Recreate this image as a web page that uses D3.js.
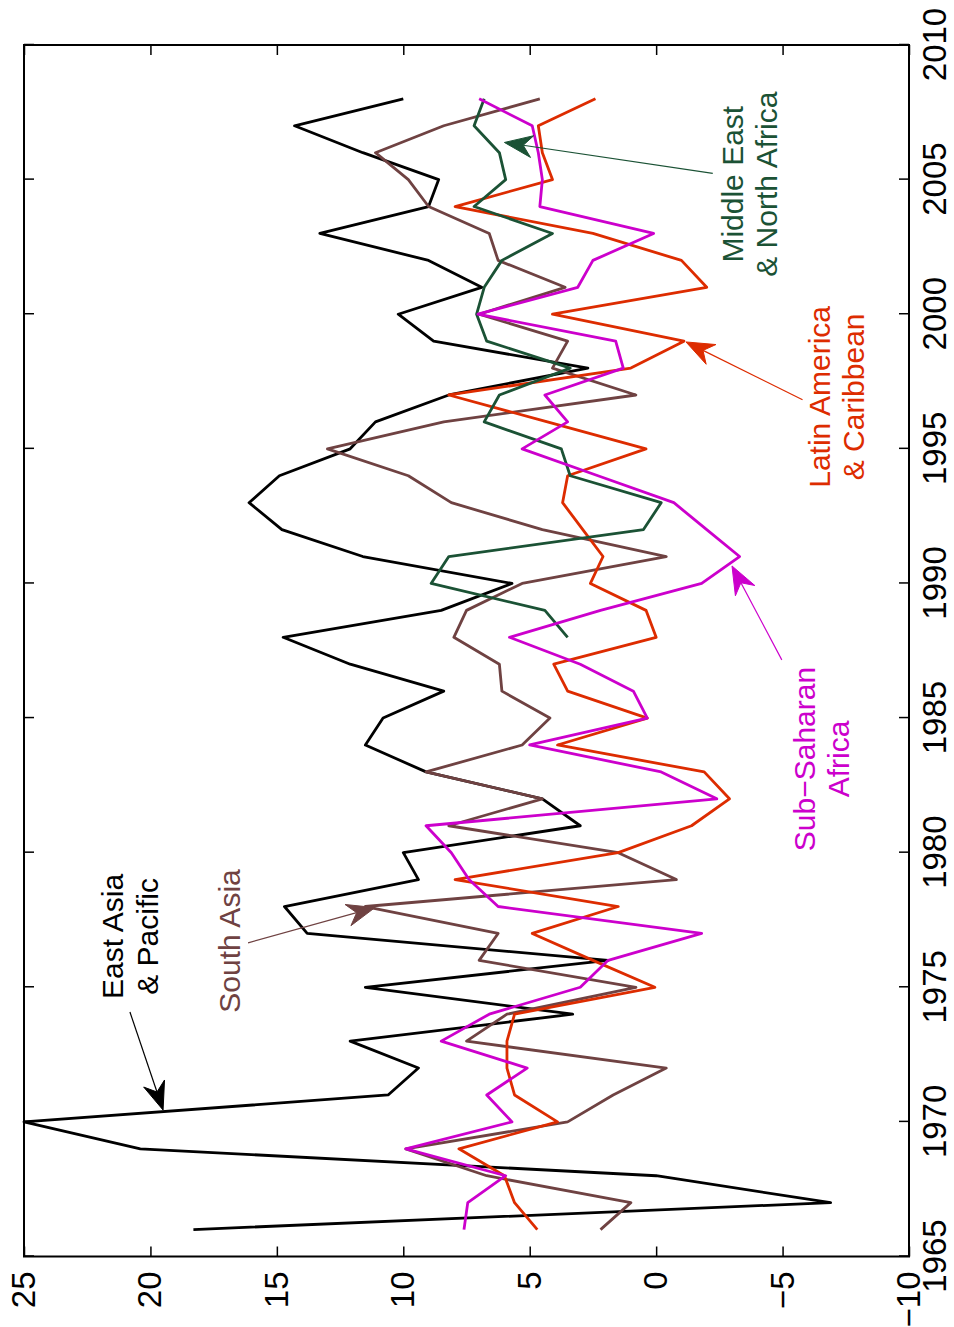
<!DOCTYPE html>
<html>
<head>
    <meta charset="utf-8" />
    <title>Growth by region</title>
    <script src="https://cdn.jsdelivr.net/npm/d3@7"></script>
    <style>
        body { margin: 0; background: #fff; }
        text { font-family: "Liberation Sans", Arial, Helvetica, sans-serif; }
    </style>
</head>
<body>
    <div id="chart"></div>
    <script>
        // values, one per year 1966..2008
        var years = [1966, 1967, 1968, 1969, 1970, 1971, 1972, 1973, 1974, 1975,
                     1976, 1977, 1978, 1979, 1980, 1981, 1982, 1983, 1984, 1985,
                     1986, 1987, 1988, 1989, 1990, 1991, 1992, 1993, 1994, 1995,
                     1996, 1997, 1998, 1999, 2000, 2001, 2002, 2003, 2004, 2005,
                     2006, 2007, 2008];
        var eastAsia = [18.3, -6.9, 0.0, 20.4, 25.0, 10.6, 9.4, 12.1, 3.3, 11.5,
                        1.9, 13.8, 14.7, 9.4, 10.0, 3.0, 4.5, 9.1, 11.5, 10.8,
                        8.4, 12.1, 14.75, 8.5, 5.7, 11.6, 14.8, 16.1, 14.9, 12.1,
                        11.1, 8.2, 2.7, 8.8, 10.2, 6.9, 9.0, 13.3, 9.0, 8.6,
                        11.6, 14.3, 10.0];
        var southAsia = [2.2, 1.0, 6.7, 9.9, 3.5, 1.7, -0.4, 7.5, 5.9, 0.8,
                         7.0, 6.25, 11.5, -0.8, 1.5, 8.2, 4.5, 9.1, 5.3, 4.2,
                         6.1, 6.2, 8.0, 7.5, 5.3, -0.4, 4.5, 8.1, 9.8, 13.0,
                         8.4, 0.8, 4.1, 3.5, 7.0, 3.6, 6.25, 6.6, 9.0, 9.8,
                         11.1, 8.4, 4.6];
        var latinAmerica = [4.7, 5.6, 6.0, 7.8, 3.9, 5.6, 5.9, 5.9, 5.6, 0.05,
                            2.5, 4.9, 1.5, 7.95, 1.5, -1.4, -2.9, -1.9, 3.9, 0.35,
                            3.5, 4.05, 0.0, 0.4, 2.6, 2.1, 2.9, 3.7, 3.5, 0.4,
                            4.3, 8.2, 1.0, -1.1, 4.1, -2.0, -1.0, 2.5, 7.95, 4.1,
                            4.5, 4.66, 2.4];
        var subSaharan = [7.6, 7.45, 5.95, 9.9, 5.7, 6.7, 5.1, 8.5, 6.6, 3.0,
                          1.9, -1.8, 6.25, 7.4, 8.1, 9.1, -2.4, -0.2, 5.0, 0.35,
                          0.9, 3.0, 5.8, 2.2, -1.8, -3.3, -2.0, -0.7, 2.3, 5.3,
                          3.5, 4.4, 1.3, 1.6, 7.05, 3.1, 2.5, 0.1, 4.6, 4.5,
                          4.66, 4.9, 7.0];
        var menaYears = [1988, 1989, 1990, 1991, 1992, 1993, 1994, 1995, 1996, 1997,
                         1998, 1999, 2000, 2001, 2002, 2003, 2004, 2005, 2006, 2007, 2008];
        var middleEast = [3.5, 4.4, 8.9, 8.2, 0.5, -0.2, 3.4, 3.75, 6.8, 6.2,
                          3.4, 6.7, 7.1, 6.8, 6.1, 4.1, 7.2, 5.95, 6.2, 7.2, 6.8];

        var yearTicks = [1965, 1970, 1975, 1980, 1985, 1990, 1995, 2000, 2005, 2010];
        var valueTicks = [-10, -5, 0, 5, 10, 15, 20, 25];
        var valueTickLabels = ["\u221210", "\u22125", "0", "5", "10", "15", "20", "25"];

        var series = [
            { name: "East Asia & Pacific", color: "#000000", xs: years, ys: eastAsia },
            { name: "South Asia", color: "#6f4242", xs: years, ys: southAsia },
            { name: "Latin America & Caribbean", color: "#dd2c00", xs: years, ys: latinAmerica },
            { name: "Middle East & North Africa", color: "#1b5235", xs: menaYears, ys: middleEast },
            { name: "Sub-Saharan Africa", color: "#cc00cc", xs: years, ys: subSaharan }
        ];

        // label text: centre year, baseline value of first line; arrow from -> to (year, value)
        var notes = [
            { lines: ["East Asia", "& Pacific"], color: "#000000", at: [1976.89, 21.07], from: [1974.08, 20.81], to: [1970.44, 19.5] },
            { lines: ["South Asia"], color: "#6f4242", at: [1976.72, 16.46], from: [1976.65, 16.14], to: [1977.96, 11.12] },
            { lines: ["Sub\u2212Saharan", "Africa"], color: "#cc00cc", at: [1983.48, -6.28], from: [1987.16, -4.97], to: [1990.65, -3.0] },
            { lines: ["Latin America", "& Caribbean"], color: "#dd2c00", at: [1996.93, -6.87], from: [1996.82, -5.79], to: [1998.97, -1.18] },
            { lines: ["Middle East", "& North Africa"], color: "#1b5235", at: [2004.83, -3.43], from: [2005.23, -2.24], to: [2006.38, 6.0] }
        ];

        var W = 954, H = 1327;

        var svg = d3.select("#chart")
            .append("svg")
            .attr("width", W)
            .attr("height", H);

        svg.append("rect").attr("width", W).attr("height", H).attr("fill", "#fff");

        // the picture is a landscape plot printed sideways, so draw it flat and turn it
        var plot = svg.append("g")
            .attr("transform", "translate(0," + H + ") rotate(-90)");

        var x = d3.scaleLinear().domain([1965, 2010]).range([70.5, 1282]);
        var y = d3.scaleLinear().domain([-10, 25]).range([909, 24]);

        var axB = plot.append("g")
            .attr("transform", "translate(0," + y(-10) + ")")
            .call(d3.axisBottom(x).tickValues(yearTicks).tickFormat(d3.format("d"))
                .tickSizeInner(-10).tickSizeOuter(0).tickPadding(14));
        var axT = plot.append("g")
            .attr("transform", "translate(0," + y(25) + ")")
            .call(d3.axisTop(x).tickValues(yearTicks).tickFormat("")
                .tickSizeInner(-10).tickSizeOuter(0));
        var axL = plot.append("g")
            .attr("transform", "translate(" + x(1965) + ",0)")
            .call(d3.axisLeft(y).tickValues(valueTicks)
                .tickFormat(function (d, i) { return valueTickLabels[i]; })
                .tickSizeInner(-10).tickSizeOuter(0).tickPadding(15));
        var axR = plot.append("g")
            .attr("transform", "translate(" + x(2010) + ",0)")
            .call(d3.axisRight(y).tickValues(valueTicks).tickFormat("")
                .tickSizeInner(-10).tickSizeOuter(0));

        [axB, axT, axL, axR].forEach(function (a) {
            a.select(".domain").remove();
            a.selectAll(".tick line").attr("stroke", "#000").attr("stroke-width", 1.5);
            a.selectAll(".tick text")
                .attr("fill", "#000")
                .style("font-size", "33px")
                .style("font-family", "'Liberation Sans', Arial, sans-serif");
        });

        var line = d3.line()
            .x(function (d) { return x(d[0]); })
            .y(function (d) { return y(d[1]); });

        plot.selectAll("path.series")
            .data(series)
            .enter()
            .append("path")
            .attr("class", "series")
            .attr("fill", "none")
            .attr("stroke", function (d) { return d.color; })
            .attr("stroke-width", 2.8)
            .attr("stroke-linejoin", "round")
            .attr("d", function (d) {
                return line(d.xs.map(function (yr, i) { return [yr, d.ys[i]]; }));
            });

        // frame
        plot.append("rect")
            .attr("x", x(1965)).attr("y", y(25))
            .attr("width", x(2010) - x(1965))
            .attr("height", y(-10) - y(25))
            .attr("fill", "none")
            .attr("stroke", "#000")
            .attr("stroke-width", 2);

        // labels and arrows
        var headLen = 28, headHalf = 11, notch = 9;

        notes.forEach(function (n) {
            var t = plot.append("text")
                .attr("x", x(n.at[0]))
                .attr("y", y(n.at[1]))
                .attr("text-anchor", "middle")
                .attr("fill", n.color)
                .style("font-size", "30px");
            n.lines.forEach(function (s, i) {
                t.append("tspan")
                    .attr("x", x(n.at[0]))
                    .attr("dy", i === 0 ? 0 : "1.15em")
                    .text(s);
            });

            var x1 = x(n.from[0]), y1 = y(n.from[1]);
            var x2 = x(n.to[0]), y2 = y(n.to[1]);
            var a = Math.atan2(y2 - y1, x2 - x1);
            var c = Math.cos(a), s = Math.sin(a);
            function pt(px, py) {
                return [x2 + px * c - py * s, y2 + px * s + py * c];
            }
            var back = pt(-headLen + notch, 0);

            plot.append("line")
                .attr("x1", x1).attr("y1", y1)
                .attr("x2", back[0]).attr("y2", back[1])
                .attr("stroke", n.color)
                .attr("stroke-width", 1.2);

            plot.append("path")
                .attr("d", "M" + [pt(0, 0), pt(-headLen, headHalf), back, pt(-headLen, -headHalf)].join("L") + "Z")
                .attr("fill", n.color)
                .attr("stroke", n.color)
                .attr("stroke-width", 1);
        });
    </script>
</body>
</html>
